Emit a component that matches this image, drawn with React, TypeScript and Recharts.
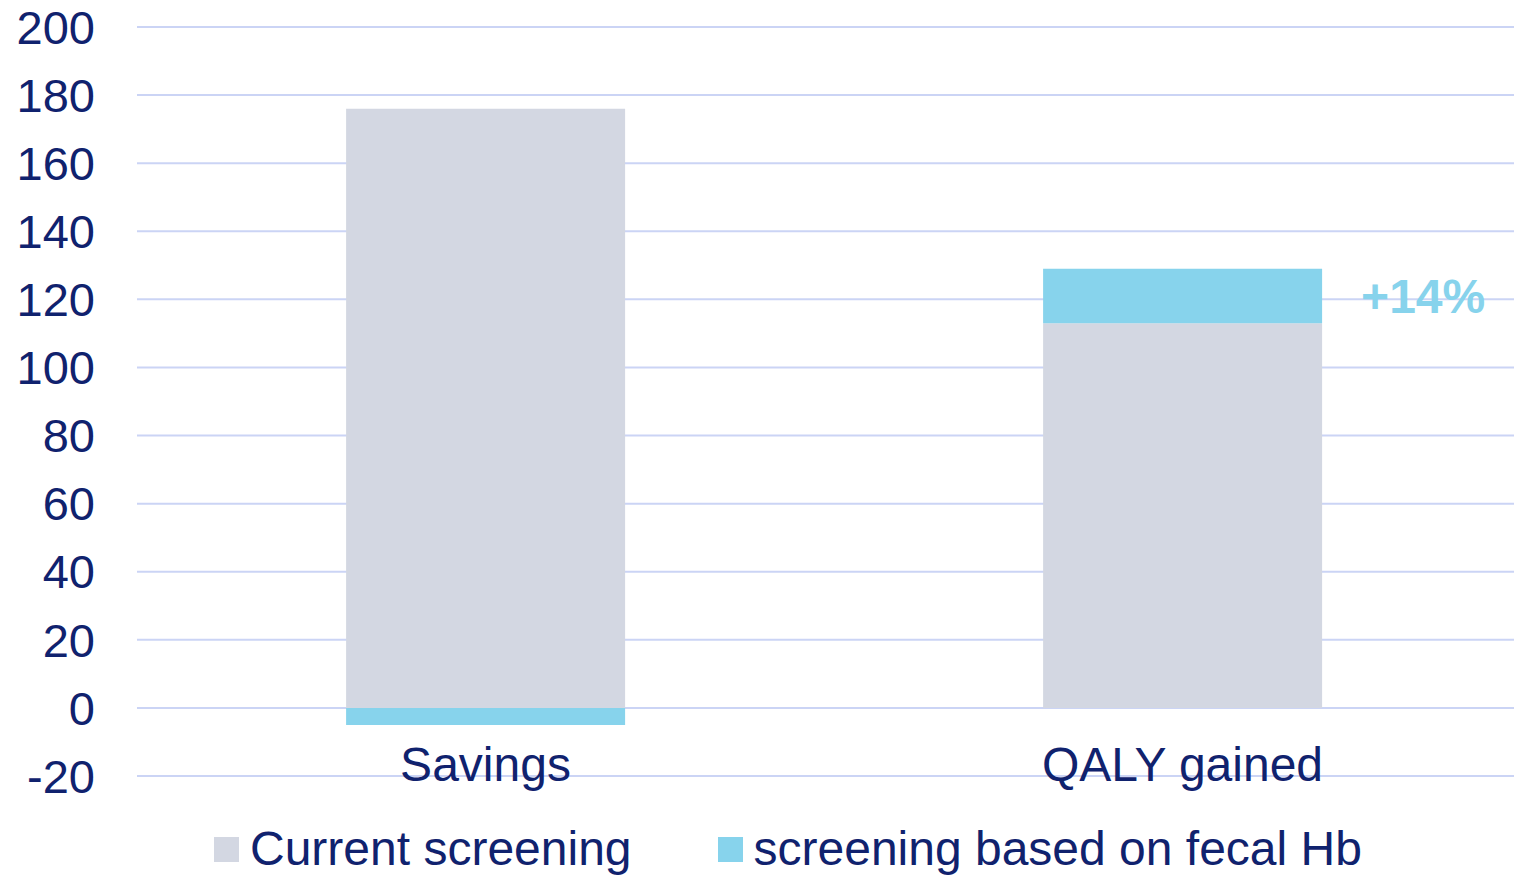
import { BarChart, Bar, XAxis, YAxis, CartesianGrid, Legend, LabelList } from "recharts"

const categories = ["Savings", "QALY gained"]
const currentScreening = [176, 113]
const fecalHbScreening = [-5, 16]
const notes = ["", "+14%"]
const yTicks = [-20, 0, 20, 40, 60, 80, 100, 120, 140, 160, 180, 200]

const data = categories.map((name, i) => ({
  name,
  current: currentScreening[i],
  fecal: fecalHbScreening[i],
  note: notes[i],
}))

const NAVY = "#10226E"
const GRAY = "#D3D7E2"
const BLUE = "#87D3EC"
const FONT = "'Liberation Sans', Arial, sans-serif"

const legendItems = [
  { label: "Current screening", color: GRAY },
  { label: "screening based on fecal Hb", color: BLUE },
]

function CategoryTick(props: any) {
  const { x, y, payload } = props
  return (
    <text x={x} y={y + 5} textAnchor="middle" fill={NAVY} fontSize={48} fontFamily={FONT}>
      {payload.value}
    </text>
  )
}

function LegendContent() {
  return (
    <div style={{ height: 60, display: "flex", alignItems: "center", paddingLeft: 214, fontFamily: FONT, fontSize: 48, color: NAVY }}>
      {legendItems.map((item, i) => (
        <div key={item.label} style={{ display: "flex", alignItems: "center", marginRight: i === 0 ? 86 : 0 }}>
          <span style={{ width: 25, height: 25, background: item.color, marginRight: 11, display: "inline-block" }} />
          <span style={{ lineHeight: "60px", whiteSpace: "nowrap" }}>{item.label}</span>
        </div>
      ))}
    </div>
  )
}

export default function App() {
  return (
    <div style={{ position: "fixed", left: 0, top: 0, width: 1514, height: 879, overflow: "hidden", background: "#fff" }}>
      <BarChart
        width={1531}
        height={879}
        data={data}
        stackOffset="sign"
        barCategoryGap="30%"
        margin={{ top: 27, right: 0, left: 0, bottom: 0 }}
      >
        <CartesianGrid vertical={false} stroke="#CBD4F5" strokeWidth={2} />
        <XAxis
          dataKey="name"
          axisLine={false}
          tickLine={false}
          tickSize={0}
          tickMargin={0}
          height={43}
          tick={<CategoryTick />}
          interval={0}
        />
        <YAxis
          width={137}
          domain={[-20, 200]}
          ticks={yTicks}
          axisLine={false}
          tickLine={false}
          tickSize={0}
          tickMargin={42}
          tick={{ fill: NAVY, fontSize: 47, fontFamily: FONT }}
        />
        <Legend verticalAlign="bottom" content={<LegendContent />} />
        <Bar dataKey="current" stackId="a" fill={GRAY} isAnimationActive={false} />
        <Bar dataKey="fecal" stackId="a" fill={BLUE} isAnimationActive={false}>
          <LabelList
            dataKey="note"
            position="right"
            offset={39}
            fill={BLUE}
            fontSize={48}
            fontWeight="bold"
            fontFamily={FONT}
          />
        </Bar>
      </BarChart>
    </div>
  )
}
